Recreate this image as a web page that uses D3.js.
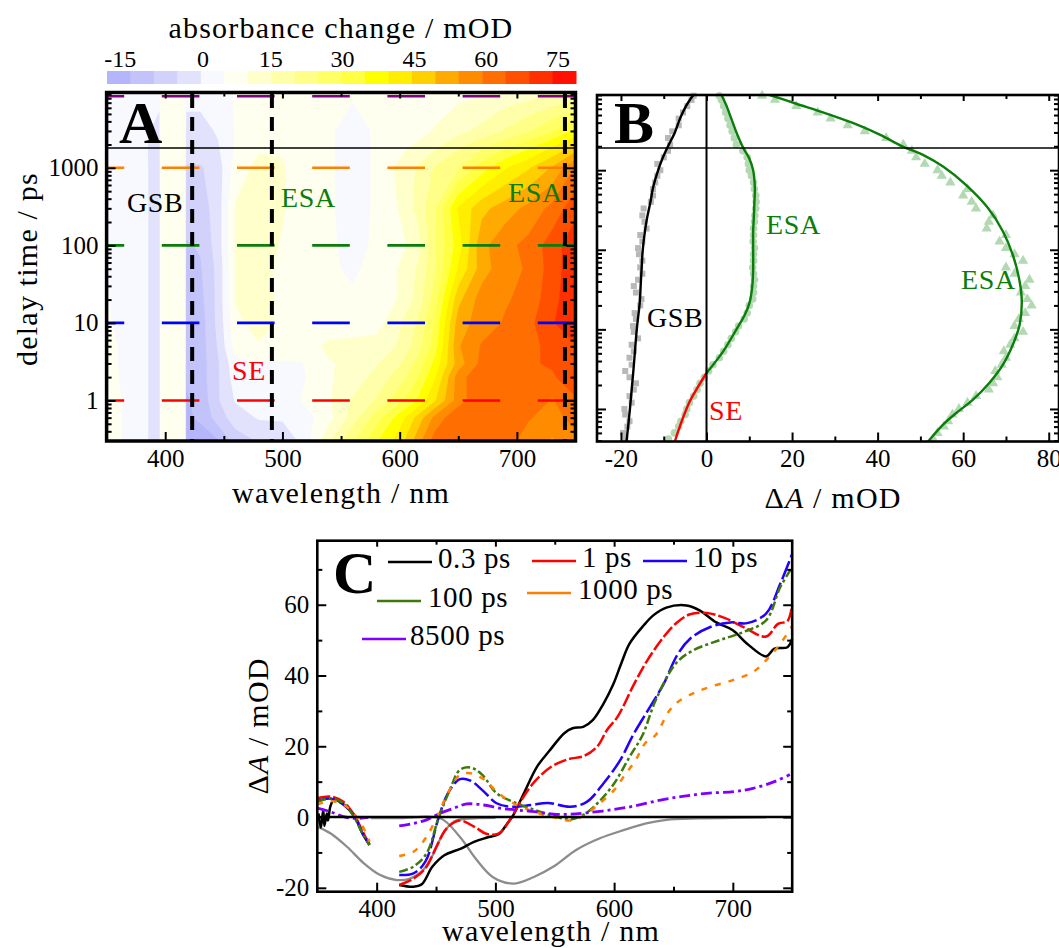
<!DOCTYPE html>
<html>
<head>
<meta charset="utf-8">
<title>Transient absorption</title>
<script src="https://d3js.org/d3.v7.min.js"></script>
<style>
    body { margin: 0; background: #fff; }
    svg { display: block; overflow: hidden; }
    text { font-family: "Liberation Serif", serif; fill: #000; }
    .axis text { font-family: "Liberation Serif", serif; font-size: 25px; fill: #000; }
    .axis line { stroke: #000; stroke-width: 2; }
    .title { font-size: 30px; letter-spacing: 1.2px; }
    .note { font-size: 28px; letter-spacing: 0.6px; }
    .panel { font-size: 60px; font-weight: bold; }
    .legend { font-size: 29px; letter-spacing: 0.6px; }
</style>
</head>
<body>
<div id="output"></div>

<script type="text/javascript">

    // ---- colour bar
    var barColors = ["#b5b5fb","#c3c3fb","#d1d1fc","#e2e2fd","#f8f8ff","#fffff0","#ffffcc","#ffffaa","#ffff88","#ffff66",
                     "#ffff44","#ffff00","#ffee00","#ffd000","#ffaa00","#ff8c00","#ff6e00","#ff5000","#ff3000","#ff1000"];
    var barThresholds = [-17.5,-12.5,-7.5,-2.5,2.5,7.5,12.5,17.5,22.5,27.5,32.5,37.5,42.5,47.5,52.5,57.5,62.5,67.5,72.5];
    var barTicks = [-15,0,15,30,45,60,75];

    // ---- panel A map, one row per delay
    var mapWavelengths = [350,363,378,387,395,396,417,418,430,445,460,480,500,515,525,540,560,580,600,615,630,650,670,690,710,730,750];
    var mapDelays = [0.3,0.6,1,2,3,5,10,20,50,100,300,1000,1800,3000,9500];
    var mapValues = [
        [5,2.5,0,-3,-5,4,4,-19,-19,-18,-10,-7,-5,-2,3,12,22,32,40,50,60,62,62,60,55,52,55],
        [5,2.5,0,-3,-5,4,4,-18,-17,-10,-5,-2,-2,-1,2,6,15,25,35,44,54,62,62,62,58,55,60],
        [5,2.5,0,-3,-5,4,4,-18,-16,-8,-2,-1,-1,2.5,4,7,13,18,26,33,42,55,62,62,62,57,62],
        [4.5,2,0,-3,-5,4,4,-17,-15,-8,0,0,0,1,4,7,10,14,20,27,37,55,62,62,62,62,65],
        [4,2,0,-3,-5,4,4,-16,-15,-8,1,2,2,2,4,7,9,12,17,24,34,50,59,62,62,63,66],
        [4,2,0,-3,-5,4,4,-16,-15,-7,5,7,6,6,6,9,9.5,10,13,20,30,52,58,61,62,63,67],
        [3,1.5,0,-3,-5,4,4,-16,-15,-6,6,10,6,5,4,4,4,5,12,18,28,50,55,58,61,67,72],
        [2.8,1,0,-3,-5,4,4,-15,-14,-6,8,10,6,4.5,4,3.5,3,4,8,14,25,46,55,57,59,66,71],
        [2,1,0,-3,-5,4,4,-14,-13,-6,8,10,6,4,3.5,3,2,3.5,8,13,22,38,50,56,58,65,71],
        [1.5,0.5,0,-3,-5,4,4,-13,-12,-5,8,10,7,4,3,3,1.5,3,6,10,22,35,51,56,59,65,71],
        [1,0.5,0,-3,-5,4,4,-10,-10,-5,8,10,8,5,3.5,3,1,3,8,14,22,38,46,50,54,59,66],
        [1,0.5,0,-3,-5,4,4,-8,-8,-5,5,9,8,5,3.5,3,1,3,9,13,18,22,30,37,42,48,58],
        [1,0.5,-0.5,-3,-4,4,4,-5,-5,-3,3,7,7,4,3,3,1,3,6,9,12,17,22,27,32,38,45],
        [1,0.5,-1,-2.5,-3,4,4,-4,-4,-2,3,6,6,4,3,3,1,3,3.5,5,8,11,14,18,22,27,34],
        [1,0.5,-1,-2,-2,4,4,-1,-1,-0.5,3,4,3.5,3.5,3.5,3,3,3,3.5,4,4.5,6,7,9,10,12,13]
    ];
    var probeWavelengths = [423,491,741];
    var sliceDelays = [1,10,100,1000,8500];
    var sliceColors = ["#ff0000","#0000ff","#0a7d0a","#ff8000","#800080"];

    // ---- panel B kinetics, fitted lines
    var gsbFitDelays = [0.39,1,3,10,22,35,55,100,170,250,400,600,1000,1400,1900,3000,4500,6500,9000];
    var gsbFit = [-18.7,-17.9,-17.1,-16.3,-15.6,-15.4,-15.2,-14.9,-14.4,-13.9,-13.1,-12.5,-11.3,-10.3,-9.2,-7.4,-6.2,-4.8,-3.1];
    var seFitDelays = [0.39,0.7,1.25,1.93,2.83];
    var seFit = [-7.4,-5.8,-3.9,-1.9,0];
    var esaFitDelays = [2.83,5.3,10,15,22,35,55,100,170,250,400,600,1000,1400,1900,3000,4500,6500,9000];
    var esaFit = [0,3.9,7,8.9,10.1,10.7,10.9,10.9,10.9,11.05,11.2,11.3,10.9,10,8.6,7,5.8,4.7,3.5];
    var esa2FitDelays = [0.39,0.636,0.89,1.31,2.12,3.6,6.4,11.4,22.4,40,86,170,335,650,1110,1560,1980,2810,3960,5420,6960,9000];
    var esa2Fit = [51.8,55.3,58.4,62.3,66.1,69.3,71.6,73.2,73.7,73.2,71.6,69.3,65.8,60.7,55.3,50.6,45.9,40.5,34.2,27.2,21,14.8];

    // ---- panel B kinetics, measured points
    var pointDelays = [0.42,0.5,0.6,0.7,0.85,1,1.2,1.45,1.75,2.1,2.5,3,3.6,4.4,5.3,6.4,7.7,9.3,11,13.5,16,20,24,29,35,42,50,60,73,88,105,127,153,185,225,270,330,400,480,580,700,850,1000,1200,1450,1750,2100,2550,3100,3700,4500,5400,6500,7800,8800];
    var gsbPoints = [-19,-19.5,-18.5,-18,-19,-19.2,-17.5,-18,-17,-16.5,-18,-19,-17.5,-18,-17,-17.5,-16,-17,-17.2,-16.5,-16.8,-15.5,-15.2,-16.5,-17,-16,-15,-15.5,-15,-15.8,-16,-15,-15.5,-14,-14.5,-15,-14.7,-13,-12.5,-12.5,-12,-11.5,-10.8,-11.5,-10,-9,-8.5,-9,-8,-6.5,-6.5,-5.5,-4.5,-3.5,-3];
    var esaPoints = [-8.9,-7.5,-6.5,-6,-5,-4.6,-4,-3,-2.2,-1.5,-0.5,0.5,1.5,3,4,5,5.8,6.8,7.5,8.8,9.5,10,10.8,11,11,11.2,11,10.8,11,11,11.2,10.9,11,11,11.2,11.3,11.5,11.6,11.5,11.2,11,10.5,10,9.8,9.5,8.5,7,6.5,6,5.5,5,4.5,4,3.5,3];
    var esa2Points = [53,54,55.5,56.5,57.5,59,61,63,66,67,68,67.5,69,70,69.5,71,72,74,72,73,74.5,76,75,73.5,74.5,75.5,72,70,74,72,70,68.5,70,65.5,66,67,63,62,60,61,57,55,54,51,49,48,46,42,37,33,29,26,21,16,13];

    // ---- panel C spectra, null marks the gap around the pump
    var spectrumLabels = ["0.3 ps","1 ps","10 ps","100 ps","1000 ps","8500 ps"];
    var spectrumColors = ["#000000","#ff0000","#2200ff","#3d7a0a","#ff8000","#8000ff"];
    var nm03 = [351,353,355,356,358,359,361,364,368,372,381,388,394,400,419,431,438,447,457,471,482,493,503,510,515,524,535,545,558,565,574,582,591,599,606,613,625,633,644,661,672,686,700,712,728,735,746,750];
    var val03 = [1,-3,2,-2.5,1,-1,3,5,4.5,3.5,0.5,-4.6,-7.9,null,-19.2,-19.7,-19,-14,-10.8,-8.9,-7,-5.8,-4.8,-1.8,0.5,6.7,14.2,18.5,23.7,25.1,25.5,27.4,32,37.3,43.4,49,54.2,57,59.2,59.8,58.4,55,52.8,49,45.4,47.6,48,50.4];
    var nm1 = [350,361,372,381,389,394,400,419,431,441,451,459,470,482,493,503,513,521,533,547,561,575,586,594,603,617,628,642,653,664,678,693,709,728,738,746,750];
    var val1 = [5.3,5.8,4.3,0.6,-4.6,-7.9,null,-19.2,-17.4,-14.5,-7.9,-3.2,-1,-2.7,-4.8,-4.6,-0.4,4.3,10,14.2,16.3,17.3,20,24.6,28.4,37.7,44.3,51,55,57.3,57.7,56.3,53.7,51,54.6,55.4,60];
    var nm10 = [350,361,372,381,388,394,400,419,431,441,452,460,470,479,489,501,513,530,544,563,577,591,605,616,630,642,653,664,681,698,712,728,740,750];
    var val10 = [4.5,5.2,3.6,0.3,-4.5,-7.7,null,-16.4,-15.9,-12.6,-0.4,6.7,10.7,10.3,7.6,3.9,2.9,3.4,4,2.9,4.3,9.5,16,23.2,31,37.8,45.7,50.4,53.7,55,54.8,57.5,66,74.4];
    var nm100 = [350,361,372,381,388,394,400,419,431,442,452,462,470,479,489,501,515,533,549,563,574,586,600,613,624,635,652,666,689,709,728,740,750];
    var val100 = [4.3,5.3,3.9,0,-4.6,-7.9,null,-15.5,-14,-10.3,-0.4,8,13.3,14,11.9,6.7,4.3,2,0.3,-0.7,0.6,3.9,9.5,17,23.2,33,43.4,47,50,52.3,55.6,65,70.6];
    var nm1000 = [350,361,372,381,388,394,400,419,431,442,452,460,470,479,491,501,515,533,549,563,574,586,600,608,618,626,635,646,654,667,681,700,717,728,740,750];
    var val1000 = [3.5,4.5,3.5,0.9,-2.5,-7,null,-11,-9.8,-5.6,1,6.7,11.9,12.4,10.5,7.2,3.9,1.5,-0.1,-1,0.3,3.4,7.6,11.4,16,20.8,23.2,29.8,32.6,35,36.8,38.7,41,44.3,49,54];
    var nm8500 = [350,361,372,383,393,400,419,431,442,453,465,476,490,504,518,533,549,563,577,597,617,639,659,678,701,717,735,748];
    var val8500 = [2.5,1.5,0.1,-0.4,-0.1,null,-2.5,-1.8,-0.8,1,2.5,3.7,3.4,2.5,2,1.5,0.8,0.8,1.2,2,3.1,4.8,5.9,6.7,7.2,8.1,10,12];
    var absorptionNm = [350,361,375,389,403,417,428,439,448,456,465,470,485,500];
    var absorption = [-2.7,-4.6,-8.4,-13,-16.4,-17.8,-17.4,-15,-10.3,-4.6,-1.3,-0.7,-0.3,-0.2];
    var emissionNm = [395,420,454,470,484,498,515,532,549,568,588,608,627,644,672,700,728];
    var emission = [-0.3,-0.3,-0.4,-5.6,-12,-17,-18.8,-17,-14,-9.3,-6,-3.7,-1.8,-0.8,-0.4,-0.2,-0.1];

    var logMinor = [0.4,0.5,0.6,0.7,0.8,0.9,2,3,4,5,6,7,8,9,20,30,40,50,60,70,80,90,200,300,400,500,600,700,800,900,2000,3000,4000,5000,6000,7000,8000,9000];

    var svg = d3.select("#output").append("svg")
        .attr("width", 1059)
        .attr("height", 948);

    // draws ticks on all four sides, labels only left and bottom
    function addAxes(x, y, xMajor, xMinor, yMajor, yMinor, frameWidth, showY) {
        var xr = x.range(), yr = y.range();
        var x0 = xr[0], x1 = xr[xr.length - 1], yb = yr[0], yt = yr[yr.length - 1];
        var fmt = function(d) { return String(d); };
        var sets = [
            [d3.axisBottom(x), xMajor, 9, "translate(0," + yb + ")", fmt],
            [d3.axisBottom(x), xMinor, 5, "translate(0," + yb + ")", ""],
            [d3.axisTop(x), xMajor, 6, "translate(0," + yt + ")", ""],
            [d3.axisTop(x), xMinor, 4, "translate(0," + yt + ")", ""],
            [d3.axisLeft(y), yMajor, 9, "translate(" + x0 + ",0)", showY ? fmt : ""],
            [d3.axisLeft(y), yMinor, 5, "translate(" + x0 + ",0)", ""],
            [d3.axisRight(y), yMajor, 9, "translate(" + x1 + ",0)", ""],
            [d3.axisRight(y), yMinor, 5, "translate(" + x1 + ",0)", ""]
        ];
        sets.forEach(function(s) {
            var a = svg.append("g")
                .attr("class", "axis")
                .attr("transform", s[3])
                .call(s[0].tickValues(s[1]).tickSizeInner(-s[2]).tickSizeOuter(0).tickPadding(8).tickFormat(s[4]));
            a.select(".domain").remove();
        });
        svg.append("rect")
            .attr("x", x0).attr("y", yt)
            .attr("width", x1 - x0).attr("height", yb - yt)
            .attr("fill", "none").attr("stroke", "#000").attr("stroke-width", frameWidth);
    }

    // ---- colour bar
    var barX = d3.scaleBand().domain(d3.range(barColors.length)).range([107, 576]);
    svg.selectAll(".cell")
        .data(barColors)
        .enter()
        .append("rect")
        .attr("class", "cell")
        .attr("x", function(d, i) { return barX(i); })
        .attr("y", 71)
        .attr("width", barX.bandwidth() + 0.5)
        .attr("height", 13)
        .attr("fill", function(d) { return d; });

    var barLabel = d3.scaleLinear().domain([0, 75]).range([199, 558]);
    svg.selectAll(".barTick")
        .data(barTicks)
        .enter()
        .append("text")
        .attr("class", "barTick")
        .attr("x", function(d) { return barLabel(d) + (d < 0 ? -7 : d == 0 ? 4 : 0); })
        .attr("y", 67)
        .attr("text-anchor", "middle")
        .style("font-size", "24px")
        .text(function(d) { return d; });

    svg.append("text").attr("class", "title").attr("x", 341).attr("y", 38).attr("text-anchor", "middle")
        .text("absorbance change / mOD");

    // ---- panel A
    var xA = d3.scaleLinear().domain([350, 750]).range([106.6, 575.5]);
    var yA = d3.scaleLog().domain([0.3, 1800, 9500]).range([441, 148, 92.5]);

    var color = d3.scaleThreshold().domain(barThresholds).range(barColors);
    var colPx = mapWavelengths.map(function(d) { return xA(d); });
    var rowPx = mapDelays.map(function(d) { return yA(d); });

    function warp(px, f) {                                  // contour coordinate -> pixel
        var c = Math.max(0, Math.min(px.length - 1, f - 0.5));
        var i = Math.min(Math.floor(c), px.length - 2);
        return px[i] + (px[i + 1] - px[i]) * (c - i);
    }

    svg.append("rect")
        .attr("x", xA(350)).attr("y", yA(9500))
        .attr("width", xA(750) - xA(350)).attr("height", yA(0.3) - yA(9500))
        .attr("fill", barColors[0]);

    var bands = d3.contours()
        .size([mapWavelengths.length, mapDelays.length])
        .thresholds(barThresholds)(d3.merge(mapValues));

    var mapPath = d3.geoPath();
    svg.append("g").selectAll("path")
        .data(bands)
        .enter()
        .append("path")
        .attr("fill", function(d) { return color(d.value); })
        .attr("d", function(d) {
            var warped = d.coordinates.map(function(poly) {
                return poly.map(function(ring) {
                    return ring.map(function(p) { return [warp(colPx, p[0]), warp(rowPx, p[1])]; });
                });
            });
            return mapPath({type: "MultiPolygon", coordinates: warped});
        });

    svg.selectAll(".slice")
        .data(sliceDelays)
        .enter()
        .append("line")
        .attr("class", "slice")
        .attr("x1", xA(350)).attr("x2", xA(750))
        .attr("y1", function(d) { return yA(d); })
        .attr("y2", function(d) { return yA(d); })
        .attr("stroke", function(d, i) { return sliceColors[i]; })
        .attr("stroke-width", 2.6)
        .attr("stroke-dasharray", "37.6,37.6")
        .attr("stroke-dashoffset", 20);

    svg.selectAll(".probe")
        .data(probeWavelengths)
        .enter()
        .append("line")
        .attr("class", "probe")
        .attr("x1", function(d) { return xA(d); })
        .attr("x2", function(d) { return xA(d); })
        .attr("y1", 94).attr("y2", 441)
        .attr("stroke", "#000")
        .attr("stroke-width", 4)
        .attr("stroke-dasharray", "14,9");

    svg.append("line").attr("x1", xA(350)).attr("x2", xA(750)).attr("y1", 148).attr("y2", 148)
        .attr("stroke", "#000").attr("stroke-width", 1.6);

    addAxes(xA, yA, [400,500,600,700], [450,550,650], [1,10,100,1000], logMinor, 3.5, true);

    svg.append("text").attr("class", "panel").attr("x", 119).attr("y", 143).text("A");
    svg.append("text").attr("class", "note").attr("x", 127).attr("y", 212).text("GSB");
    svg.append("text").attr("class", "note").attr("x", 281).attr("y", 207).style("fill", "#0a7d0a").text("ESA");
    svg.append("text").attr("class", "note").attr("x", 508).attr("y", 202).style("fill", "#0a7d0a").text("ESA");
    svg.append("text").attr("class", "note").attr("x", 232).attr("y", 380).style("fill", "#ff0000").text("SE");
    svg.append("text").attr("class", "title").attr("x", 341).attr("y", 503).attr("text-anchor", "middle")
        .text("wavelength / nm");
    svg.append("text").attr("class", "title").attr("text-anchor", "middle")
        .attr("transform", "translate(37,269) rotate(-90)")
        .text("delay time / ps");

    // ---- panel B
    var xB = d3.scaleLinear().domain([-25.6, 82.4]).range([597, 1059]);
    var yB = d3.scaleLog().domain([0.39, 1900, 9000]).range([441.5, 148, 95]);

    var kinetic = d3.line()
        .x(function(d) { return xB(d[1]); })
        .y(function(d) { return yB(d[0]); })
        .curve(d3.curveCatmullRom);

    svg.selectAll(".gsbPoint")
        .data(d3.zip(pointDelays, gsbPoints))
        .enter()
        .append("rect")
        .attr("class", "gsbPoint")
        .attr("x", function(d) { return xB(d[1]) - 3; })
        .attr("y", function(d) { return yB(d[0]) - 3; })
        .attr("width", 6).attr("height", 6)
        .attr("fill", "#b8b8b8");

    svg.selectAll(".esaPoint")
        .data(d3.zip(pointDelays, esaPoints))
        .enter()
        .append("circle")
        .attr("class", "esaPoint")
        .attr("cx", function(d) { return xB(d[1]); })
        .attr("cy", function(d) { return yB(d[0]); })
        .attr("r", 3.8)
        .attr("fill", "#b3d9b3");

    var triangle = d3.symbol().type(d3.symbolTriangle).size(46);
    svg.selectAll(".esa2Point")
        .data(d3.zip(pointDelays, esa2Points))
        .enter()
        .append("path")
        .attr("class", "esa2Point")
        .attr("transform", function(d) { return "translate(" + xB(d[1]) + "," + yB(d[0]) + ")"; })
        .attr("d", triangle)
        .attr("fill", "#b3d9b3");

    var fits = [
        [gsbFitDelays, gsbFit, "#000"],
        [seFitDelays, seFit, "#ff0000"],
        [esaFitDelays, esaFit, "#0a7d0a"],
        [esa2FitDelays, esa2Fit, "#0a7d0a"]
    ];
    fits.forEach(function(f) {
        svg.append("path")
            .attr("d", kinetic(d3.zip(f[0], f[1])))
            .attr("fill", "none")
            .attr("stroke", f[2])
            .attr("stroke-width", 2.4);
    });

    svg.append("line").attr("x1", xB(0)).attr("x2", xB(0)).attr("y1", 95).attr("y2", 441.5)
        .attr("stroke", "#000").attr("stroke-width", 2);
    svg.append("line").attr("x1", 597).attr("x2", 1059).attr("y1", 148).attr("y2", 148)
        .attr("stroke", "#000").attr("stroke-width", 1.6);

    addAxes(xB, yB, [-20,0,20,40,60,80], [-10,10,30,50,70], [1,10,100,1000], logMinor, 2.6, false);

    svg.append("text").attr("class", "panel").attr("x", 614).attr("y", 143).text("B");
    svg.append("text").attr("class", "note").attr("x", 647).attr("y", 327).text("GSB");
    svg.append("text").attr("class", "note").attr("x", 766).attr("y", 234).style("fill", "#0a7d0a").text("ESA");
    svg.append("text").attr("class", "note").attr("x", 961).attr("y", 289).style("fill", "#0a7d0a").text("ESA");
    svg.append("text").attr("class", "note").attr("x", 709).attr("y", 420).style("fill", "#ff0000").text("SE");

    var labelB = svg.append("text").attr("class", "title").attr("x", 833).attr("y", 508).attr("text-anchor", "middle");
    labelB.append("tspan").text("\u0394");
    labelB.append("tspan").style("font-style", "italic").text("A");
    labelB.append("tspan").text(" / mOD");

    // ---- panel C
    var xC = d3.scaleLinear().domain([350, 750]).range([317.3, 792.2]);
    var yC = d3.scaleLinear().domain([-21.1, 78.1]).range([891.7, 540.7]);

    var spectrum = d3.line()
        .defined(function(d) { return d[1] !== null; })
        .x(function(d) { return xC(d[0]); })
        .y(function(d) { return yC(d[1]); })
        .curve(d3.curveCatmullRom);

    [[absorptionNm, absorption], [emissionNm, emission]].forEach(function(g) {
        svg.append("path")
            .attr("d", spectrum(d3.zip(g[0], g[1])))
            .attr("fill", "none")
            .attr("stroke", "#8c8c8c")
            .attr("stroke-width", 2.3);
    });

    var spectra = [[nm03, val03], [nm1, val1], [nm10, val10], [nm100, val100], [nm1000, val1000], [nm8500, val8500]];
    var spectrumDash = ["none", "13,3", "19,4", "9,3,3,3", "6,8", "11,4,3,4"];
    spectra.forEach(function(s, i) {
        svg.append("path")
            .attr("d", spectrum(d3.zip(s[0], s[1])))
            .attr("fill", "none")
            .attr("stroke", spectrumColors[i])
            .attr("stroke-width", i == 5 ? 2.8 : 2.5)
            .attr("stroke-dasharray", spectrumDash[i]);
    });

    svg.append("line").attr("x1", xC(350)).attr("x2", xC(750)).attr("y1", yC(0)).attr("y2", yC(0))
        .attr("stroke", "#000").attr("stroke-width", 2.6);

    addAxes(xC, yC, [400,500,600,700], [450,550,650], [-20,0,20,40,60], [-10,10,30,50,70], 2.6, true);

    // legend layout: line start, text start and height for each series
    var legendLayout = [[388, 438, 562], [532, 582, 561], [643, 693, 561], [377, 428, 601], [527, 578, 593], [362, 410, 639]];
    spectrumLabels.forEach(function(label, i) {
        var p = legendLayout[i];
        svg.append("line")
            .attr("x1", p[0]).attr("x2", p[0] + 44)
            .attr("y1", p[2]).attr("y2", p[2])
            .attr("stroke", spectrumColors[i])
            .attr("stroke-width", 2.5);
        svg.append("text").attr("class", "legend").attr("x", p[1]).attr("y", p[2] + 6).text(label);
    });

    svg.append("text").attr("class", "panel").attr("x", 333).attr("y", 593).text("C");
    svg.append("text").attr("class", "title").attr("x", 551).attr("y", 941).attr("text-anchor", "middle")
        .text("wavelength / nm");
    var labelC = svg.append("text").attr("class", "title").attr("text-anchor", "middle")
        .attr("transform", "translate(268,726) rotate(-90)");
    labelC.append("tspan").text("\u0394");
    labelC.append("tspan").style("font-style", "italic").text("A");
    labelC.append("tspan").text(" / mOD");
</script>

</body>
</html>
